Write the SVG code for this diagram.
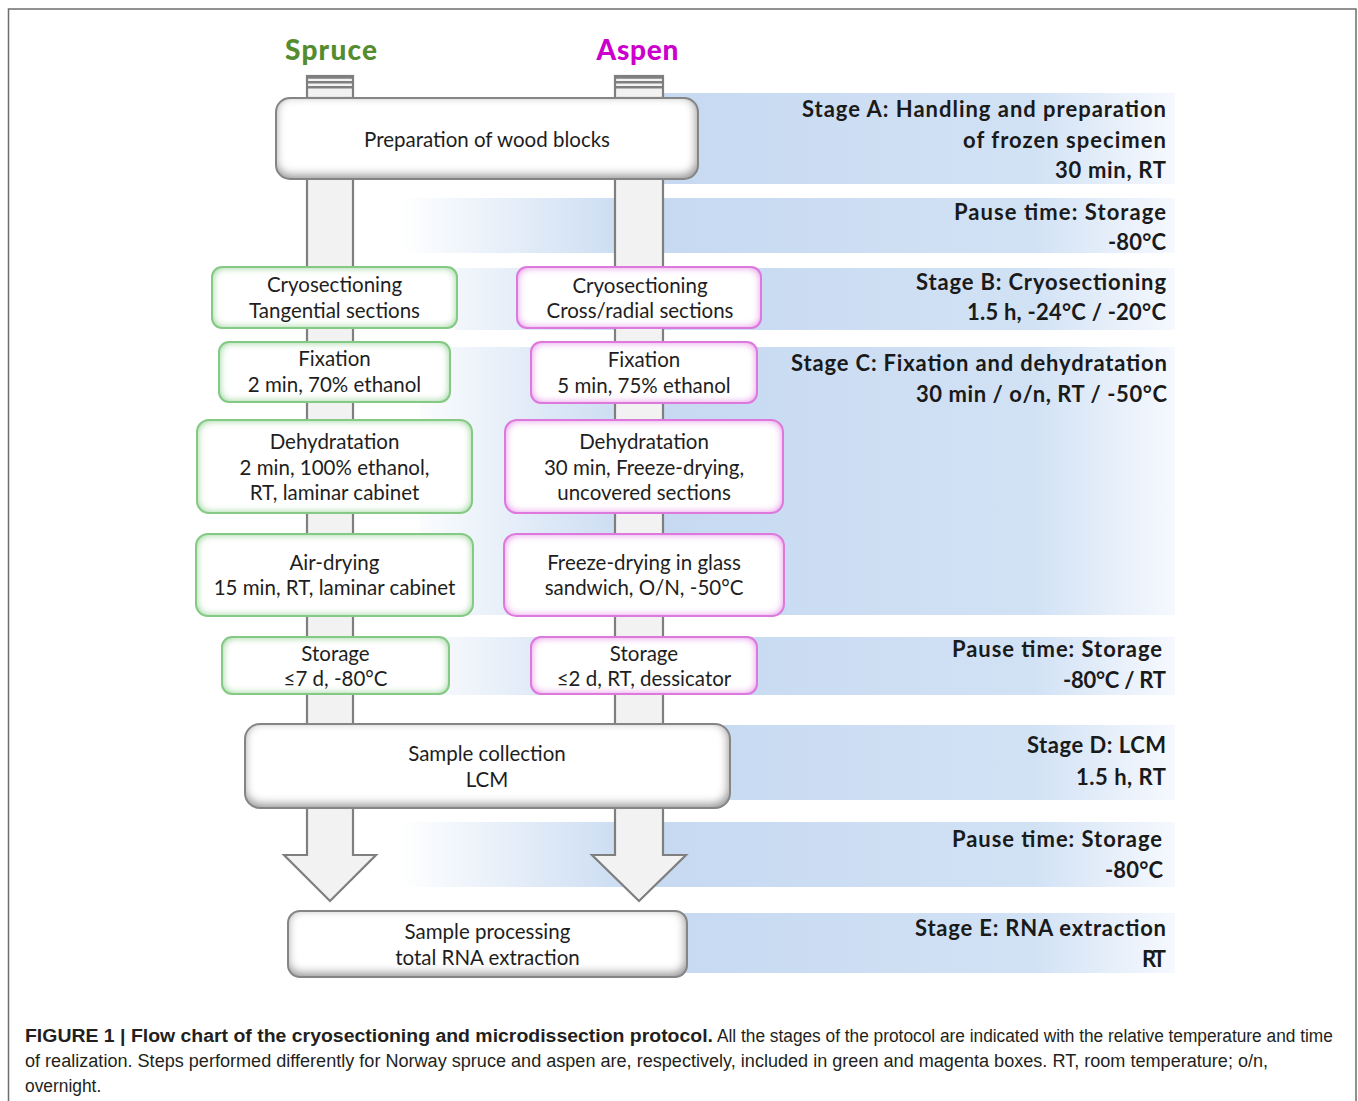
<svg xmlns="http://www.w3.org/2000/svg" width="1358" height="1101" viewBox="0 0 1358 1101">
<defs>
<style>
.bx{font-family:Lato,"Open Sans","Liberation Sans",sans-serif;font-size:20.5px;fill:#1e1e1e;text-anchor:middle}
.st{font-family:Lato,"Open Sans","Liberation Sans",sans-serif;font-size:22px;font-weight:bold;fill:#1a1a1a;text-anchor:end}
.cap{font-family:"Liberation Sans",Arial,sans-serif;font-size:19px;fill:#231f20}
.gfill{fill:#ffffff;filter:url(#glowGray)}
.gline{fill:none;stroke:#858585;stroke-width:2}
.grfill{fill:#ffffff;filter:url(#glowGreen)}
.grline{fill:none;stroke:#84c984;stroke-width:2}
.mfill{fill:#ffffff;filter:url(#glowMag)}
.mline{fill:none;stroke:#dd78dd;stroke-width:2}
.band{fill:url(#bandFade)}
.pillar{fill:#f2f2f2;stroke:#7f7f7f;stroke-width:2.2;stroke-linejoin:miter}
.stripe{stroke:#7f7f7f;stroke-width:2.4}
.hdr{font-family:Lato,"Open Sans","Liberation Sans",sans-serif;font-size:28px;font-weight:900;text-anchor:middle}
</style>
<linearGradient id="bandFade" gradientUnits="userSpaceOnUse" x1="400" y1="0" x2="1175" y2="0">
<stop offset="0" stop-color="#ffffff"/>
<stop offset="0.32" stop-color="#c6d9f1"/>
<stop offset="0.82" stop-color="#d2e2f5"/>
<stop offset="1" stop-color="#f6f9fe"/>
</linearGradient>
<filter id="glowGreen" x="-10%" y="-20%" width="120%" height="140%">
<feFlood flood-color="#a3dba3" result="f"/>
<feComposite in="f" in2="SourceAlpha" operator="out" result="o"/>
<feMorphology in="o" operator="dilate" radius="2" result="d"/>
<feGaussianBlur in="d" stdDeviation="3" result="b"/>
<feComposite in="b" in2="SourceAlpha" operator="in" result="i"/>
<feMerge><feMergeNode in="SourceGraphic"/><feMergeNode in="i"/></feMerge>
</filter>
<filter id="glowMag" x="-10%" y="-20%" width="120%" height="140%">
<feFlood flood-color="#ec9cec" result="f"/>
<feComposite in="f" in2="SourceAlpha" operator="out" result="o"/>
<feMorphology in="o" operator="dilate" radius="2" result="d"/>
<feGaussianBlur in="d" stdDeviation="3" result="b"/>
<feComposite in="b" in2="SourceAlpha" operator="in" result="i"/>
<feMerge><feMergeNode in="SourceGraphic"/><feMergeNode in="i"/></feMerge>
</filter>
<filter id="glowGray" x="-10%" y="-20%" width="120%" height="140%">
<feFlood flood-color="#9a9a9a" result="f"/>
<feComposite in="f" in2="SourceAlpha" operator="out" result="o"/>
<feOffset in="o" dx="-1" dy="-3" result="oo"/>
<feMorphology in="oo" operator="dilate" radius="2" result="d"/>
<feGaussianBlur in="d" stdDeviation="4" result="b"/>
<feComposite in="b" in2="SourceAlpha" operator="in" result="i"/>
<feMerge><feMergeNode in="SourceGraphic"/><feMergeNode in="i"/></feMerge>
</filter>
</defs>

<rect width="1358" height="1101" fill="#ffffff"/>
<path d="M8.5,1101 V9 H1356 V1101" fill="none" stroke="#6e6e6e" stroke-width="1.5"/>

<g id="bands">
<rect class="band" x="640" y="93" width="535" height="91"/>
<rect class="band" x="400" y="198" width="775" height="55"/>
<rect class="band" x="455" y="268" width="720" height="62"/>
<rect class="band" x="420" y="347" width="755" height="268"/>
<rect class="band" x="445" y="637" width="730" height="58"/>
<rect class="band" x="700" y="725" width="475" height="75"/>
<rect class="band" x="400" y="822" width="775" height="65"/>
<rect class="band" x="680" y="913" width="495" height="60"/>
</g>

<g id="connectors">
<path class="pillar" d="M307,98 V855 H284 L330,901 L376,855 H353 V98 Z"/>
<path class="pillar" d="M615,98 V855 H592 L639,901 L686,855 H663 V98 Z"/>
<rect class="pillar" x="307" y="76" width="46" height="22"/>
<rect class="pillar" x="615" y="76" width="48" height="22"/>
<line class="stripe" x1="307" y1="77.5" x2="353" y2="77.5"/>
<line class="stripe" x1="307" y1="82.3" x2="353" y2="82.3"/>
<line class="stripe" x1="307" y1="87.2" x2="353" y2="87.2"/>
<line class="stripe" x1="615" y1="77.5" x2="663" y2="77.5"/>
<line class="stripe" x1="615" y1="82.3" x2="663" y2="82.3"/>
<line class="stripe" x1="615" y1="87.2" x2="663" y2="87.2"/>
</g>

<g id="headers">
<text class="hdr" x="331" y="60" fill="#548c2f" textLength="92">Spruce</text>
<text class="hdr" x="637.5" y="60" fill="#cc00cc" textLength="82">Aspen</text>
</g>

<g id="node-prep">
<rect class="gfill" x="276" y="98" width="422" height="81" rx="14"/>
<rect class="gline" x="276" y="98" width="422" height="81" rx="14"/>
<text class="bx" x="487" y="147">Preparation of wood blocks</text>
</g>

<g id="node-s-cryo">
<rect class="grfill" x="212" y="267" width="245" height="61" rx="10"/>
<rect class="grline" x="212" y="267" width="245" height="61" rx="10"/>
<text class="bx" x="334.5" y="292">Cryosectioning</text>
<text class="bx" x="334.5" y="318">Tangential sections</text>
</g>
<g id="node-s-fix">
<rect class="grfill" x="219" y="342" width="231" height="60" rx="10"/>
<rect class="grline" x="219" y="342" width="231" height="60" rx="10"/>
<text class="bx" x="334.5" y="366">Fixation</text>
<text class="bx" x="334.5" y="392">2 min, 70% ethanol</text>
</g>
<g id="node-s-dehyd">
<rect class="grfill" x="197" y="420" width="275" height="93" rx="12"/>
<rect class="grline" x="197" y="420" width="275" height="93" rx="12"/>
<text class="bx" x="334.5" y="449">Dehydratation</text>
<text class="bx" x="334.5" y="475">2 min, 100% ethanol,</text>
<text class="bx" x="334.5" y="500">RT, laminar cabinet</text>
</g>
<g id="node-s-air">
<rect class="grfill" x="196" y="534" width="277" height="82" rx="12"/>
<rect class="grline" x="196" y="534" width="277" height="82" rx="12"/>
<text class="bx" x="334.5" y="570">Air-drying</text>
<text class="bx" x="334.5" y="595">15 min, RT, laminar cabinet</text>
</g>
<g id="node-s-store">
<rect class="grfill" x="222" y="637" width="227" height="57" rx="10"/>
<rect class="grline" x="222" y="637" width="227" height="57" rx="10"/>
<text class="bx" x="335.5" y="661">Storage</text>
<text class="bx" x="335.5" y="686">≤7 d, -80°C</text>
</g>

<g id="node-a-cryo">
<rect class="mfill" x="517" y="267" width="244" height="61" rx="10"/>
<rect class="mline" x="517" y="267" width="244" height="61" rx="10"/>
<text class="bx" x="640" y="293">Cryosectioning</text>
<text class="bx" x="640" y="318">Cross/radial sections</text>
</g>
<g id="node-a-fix">
<rect class="mfill" x="531" y="342" width="226" height="61" rx="10"/>
<rect class="mline" x="531" y="342" width="226" height="61" rx="10"/>
<text class="bx" x="644" y="367">Fixation</text>
<text class="bx" x="644" y="393">5 min, 75% ethanol</text>
</g>
<g id="node-a-dehyd">
<rect class="mfill" x="505" y="420" width="278" height="93" rx="12"/>
<rect class="mline" x="505" y="420" width="278" height="93" rx="12"/>
<text class="bx" x="644" y="449">Dehydratation</text>
<text class="bx" x="644" y="475">30 min, Freeze-drying,</text>
<text class="bx" x="644" y="500">uncovered sections</text>
</g>
<g id="node-a-freeze">
<rect class="mfill" x="504" y="534" width="280" height="82" rx="12"/>
<rect class="mline" x="504" y="534" width="280" height="82" rx="12"/>
<text class="bx" x="644" y="570">Freeze-drying  in glass</text>
<text class="bx" x="644" y="595">sandwich, O/N, -50°C</text>
</g>
<g id="node-a-store">
<rect class="mfill" x="531" y="637" width="226" height="57" rx="10"/>
<rect class="mline" x="531" y="637" width="226" height="57" rx="10"/>
<text class="bx" x="644" y="661">Storage</text>
<text class="bx" x="644" y="686">≤2 d, RT, dessicator</text>
</g>

<g id="node-lcm">
<rect class="gfill" x="245" y="724" width="485" height="84" rx="15"/>
<rect class="gline" x="245" y="724" width="485" height="84" rx="15"/>
<text class="bx" x="487" y="761">Sample collection</text>
<text class="bx" x="487" y="787">LCM</text>
</g>
<g id="node-rna">
<rect class="gfill" x="288" y="911" width="399" height="66" rx="12"/>
<rect class="gline" x="288" y="911" width="399" height="66" rx="12"/>
<text class="bx" x="487.5" y="939">Sample processing</text>
<text class="bx" x="487.5" y="965">total RNA extraction</text>
</g>

<g id="stage-labels">
<text class="st" x="1166" y="117" textLength="364">Stage A: Handling and preparation</text>
<text class="st" x="1166" y="148" textLength="203">of frozen specimen</text>
<text class="st" x="1166" y="178" textLength="111">30 min, RT</text>
<text class="st" x="1166" y="220" textLength="212">Pause time: Storage</text>
<text class="st" x="1166" y="250" textLength="58">-80°C</text>
<text class="st" x="1166" y="290" textLength="250">Stage B: Cryosectioning</text>
<text class="st" x="1166" y="320" textLength="199">1.5 h, -24°C / -20°C</text>
<text class="st" x="1167" y="371" textLength="376">Stage C: Fixation and dehydratation</text>
<text class="st" x="1167" y="402" textLength="251">30 min / o/n, RT / -50°C</text>
<text class="st" x="1162" y="657" textLength="210">Pause time: Storage</text>
<text class="st" x="1166" y="688" textLength="103">-80°C / RT</text>
<text class="st" x="1166" y="753" textLength="139">Stage D: LCM</text>
<text class="st" x="1166" y="785" textLength="90">1.5 h, RT</text>
<text class="st" x="1162" y="847" textLength="210">Pause time: Storage</text>
<text class="st" x="1163" y="878" textLength="58">-80°C</text>
<text class="st" x="1166" y="936" textLength="251">Stage E: RNA extraction</text>
<text class="st" x="1166" y="967" textLength="24">RT</text>
</g>

<g id="caption">
<text class="cap" transform="translate(25,1042) scale(0.82,1)" x="0" y="0" font-weight="bold" textLength="839" lengthAdjust="spacingAndGlyphs">FIGURE 1 | Flow chart of the cryosectioning and microdissection protocol.</text>
<text class="cap" transform="translate(717,1042) scale(0.82,1)" x="0" y="0" textLength="751" lengthAdjust="spacingAndGlyphs">All the stages of the protocol are indicated with the relative temperature and time</text>
<text class="cap" transform="translate(25,1067) scale(0.82,1)" x="0" y="0" textLength="1516" lengthAdjust="spacingAndGlyphs">of realization. Steps performed differently for Norway spruce and aspen are, respectively, included in green and magenta boxes. RT, room temperature; o/n,</text>
<text class="cap" transform="translate(25,1092) scale(0.82,1)" x="0" y="0" textLength="93" lengthAdjust="spacingAndGlyphs">overnight.</text>
</g>
</svg>
